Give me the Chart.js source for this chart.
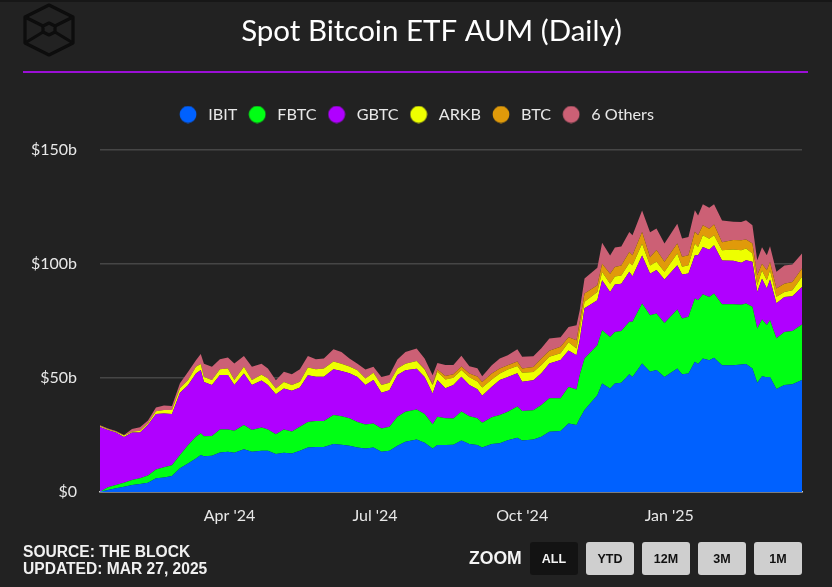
<!DOCTYPE html>
<html>
<head>
<meta charset="utf-8">
<script src="https://cdn.jsdelivr.net/npm/chart.js@4"></script>
<style>
html,body{margin:0;padding:0;background:#222222;}
#wrap{position:relative;width:832px;height:587px;overflow:hidden;background:#222222;}
canvas{display:block;}
#strip{position:absolute;left:0;top:0;width:832px;height:2px;background:#171717;}
#rule{position:absolute;left:23px;top:71px;width:785px;height:2px;background:#9b0fd6;}
#logo{position:absolute;left:20px;top:0;}
#source{position:absolute;left:23px;top:543px;font:bold 15.6px/17px "Liberation Sans",sans-serif;color:#f0f0f0;white-space:nowrap;}
#zoomlabel{position:absolute;left:469px;top:548px;font:bold 17.6px/20px "Liberation Sans",sans-serif;color:#f5f5f5;}
.btn{position:absolute;top:542px;width:48px;height:33px;border-radius:3px;background:#cfcfcf;color:#111;font:bold 12.5px/35px "Liberation Sans",sans-serif;text-align:center;}
.btn.on{background:#131313;color:#f5f5f5;}
</style>
</head>
<body>
<div id="wrap">
<canvas id="c" width="832" height="587"></canvas>
<div id="strip"></div>
<svg id="logo" width="60" height="60" viewBox="20 0 60 60" fill="none" stroke="#0d0d0d" stroke-width="3.2" stroke-linejoin="round">
<path d="M49 5L73 17V43L49 55L25 43V17Z"/>
<path d="M49 23L55 26V32L49 35L43 32V26Z"/>
<path d="M25 17L43 26M73 17L55 26M25 43L43 32M73 43L55 32"/>
</svg>
<div id="rule"></div>
<div id="source">SOURCE: THE BLOCK<br>UPDATED: MAR 27, 2025</div>
<div id="zoomlabel">ZOOM</div>
<div class="btn on" style="left:530px">ALL</div>
<div class="btn" style="left:586px">YTD</div>
<div class="btn" style="left:642px">12M</div>
<div class="btn" style="left:698px">3M</div>
<div class="btn" style="left:754px">1M</div>
</div>
<script>
// Days since 11 Jan 2024
const days = [0,5,10,15,20,25,30,35,40,45,50,55,60,63,65,70,75,80,84,90,95,101,105,110,115,120,125,130,135,140,
146,151,156,161,166,171,176,181,186,191,198,203,208,211,216,221,226,231,236,239,245,250,255,261,264,271,276,281,288,293,
298,300,303,311,314,319,322,326,331,333,339,344,348,353,361,364,368,372,374,377,381,384,389,396,401,404,408,411,414,417,419,423,428,433,439];

// Assets under management, $ billions
const IBIT = [0.1,0.9,1.6,2.3,3.1,3.5,4.1,6.0,6.4,7.0,10.4,12.5,14.7,16.2,15.7,15.9,17.3,17.6,17.2,18.7,17.6,18.1,18.1,16.6,17.2,16.9,18.1,19.5,19.7,19.7,
21.0,20.7,20.3,19.5,19.0,19.5,17.6,18.1,20.3,22.0,23.0,21.6,19.1,20.6,20.6,20.7,22.5,21.0,20.6,19.5,21.0,21.3,22.7,23.8,22.5,23.0,24.2,26.4,26.7,30.0,
29.3,32.2,35.9,42.4,47.5,45.3,47.5,47.8,51.5,50.4,56.3,52.6,53.4,50.4,54.1,51.5,51.9,57.0,56.0,58.5,57.7,58.8,55.5,55.5,55.8,56.0,54.1,47.8,50.7,50.2,50.4,45.1,46.8,47.2,49.0];
const FBTC = [0,1.2,1.5,1.7,2.2,2.5,3.1,3.9,4.4,4.7,5.8,8.0,9.5,9.5,8.7,8.6,10.1,9.8,9.6,10.6,9.5,10.1,9.3,8.7,10.2,9.6,10.5,11.2,11.4,11.4,
12.7,12.5,12.0,11.2,10.6,10.5,10.2,10.5,12.7,13.1,13.1,12.5,10.6,12.4,11.7,11.5,12.7,12.2,11.7,10.8,11.7,12.4,12.4,13.6,13.0,12.8,13.9,14.6,14.3,16.0,
15.6,19.0,22.6,21.9,23.3,22.6,22.6,22.7,23.0,24.1,26.2,24.8,24.8,23.6,25.8,24.5,24.8,27.7,28.0,28.1,27.7,28.1,26.7,26.7,26.2,26.5,27.0,23.8,24.8,22.9,24.8,22.2,23.3,23.3,24.3];
const GBTC = [28.4,25.1,22.9,20.1,20.7,20.1,22.2,24.2,23.6,22.5,27.3,26.2,27.7,27.7,23.8,22.3,23.8,23.8,20.0,22.6,19.7,20.6,19.4,17.5,17.9,17.8,17.2,20.4,19.4,19.4,
20.0,19.8,19.7,19.7,17.2,19.0,15.6,16.0,18.2,18.2,17.9,16.3,13.4,16.0,13.1,14.6,15.3,13.6,12.7,11.8,13.4,15.3,15.3,14.6,12.8,13.1,13.9,15.3,16.8,16.0,
15.0,15.3,21.9,19.7,21.9,19.7,20.8,20.7,21.9,20.0,21.1,18.2,19.0,19.0,19.4,19.2,19.0,19.0,19.7,20.7,20.7,21.1,19.2,19.0,18.4,19.0,19.7,16.0,17.9,16.0,17.8,15.3,15.3,15.2,16.5];
const ARKB = [0.4,0.3,0.4,0.6,0.4,0.7,0.7,1.3,1.5,1.7,1.9,2.2,2.9,2.6,2.2,2.2,2.5,2.9,2.2,2.9,2.2,2.5,2.9,2.5,2.9,2.5,2.5,3.4,3.2,3.6,
3.4,3.2,2.9,2.9,2.9,3.2,3.4,3.2,2.9,2.9,3.4,3.2,3.6,3.6,3.9,3.2,2.9,3.4,3.4,3.6,3.2,2.9,3.2,3.2,3.9,3.6,3.6,2.9,2.9,3.6,
2.9,4.4,2.9,3.6,3.6,3.6,3.5,3.6,3.9,4.8,5.1,3.6,3.6,3.4,5.1,3.4,3.6,5.1,3.6,5.1,4.8,4.4,4.4,5.0,5.4,5.1,3.6,2.9,3.6,3.6,4.1,2.9,2.2,2.6,4.4];
const BTC = [0,0,0,0,0,0,0,0,0,0,0,0,0,0,0,0,0,0,0,0,0,0,0,0,0,0,0,0,0,0,
0,0,0,0,0,0,0,0,0,0,0,0.3,0.6,1.0,1.5,1.5,1.5,1.7,2.2,2.5,2.6,2.2,1.9,1.9,1.9,2.2,2.9,2.6,2.9,2.2,
3.6,3.6,3.6,2.9,3.6,4.4,4.1,4.4,4.8,4.4,5.1,3.6,5.1,4.4,4.4,4.4,4.4,5.1,5.1,4.4,4.4,4.7,3.6,4.1,4.4,3.9,4.4,4.4,2.9,4.4,3.6,3.6,3.6,3.6,3.6];
const OTHERS = [0.3,0.3,0.3,0.3,1.2,1.5,1.2,1.6,2.0,1.7,2.2,3.6,2.9,4.4,5.8,5.8,4.4,4.8,7.3,4.7,5.8,4.8,4.4,3.6,4.4,4.8,5.4,5.0,4.4,4.4,
5.4,5.1,3.6,2.9,3.9,2.6,3.6,3.4,3.9,5.1,5.4,4.5,3.8,2.9,4.8,4.1,4.7,3.2,3.6,2.5,3.6,4.4,4.4,5.4,5.1,4.7,4.4,5.4,4.1,4.4,
6.6,5.1,6.6,7.7,9.2,8.0,8.5,8.3,8.7,8.7,9.5,10.9,9.5,8.0,8.7,8.0,8.0,9.5,8.7,9.2,9.2,8.9,9.5,8.0,8.0,8.5,8.0,6.6,7.3,6.6,6.9,7.3,8.0,7.7,6.6];

const seriesNames = ['IBIT','FBTC','GBTC','ARKB','BTC','6 Others'];
const seriesValues = [IBIT,FBTC,GBTC,ARKB,BTC,OTHERS];
const seriesColors = ['#0061ff','#00ff14','#b000ff','#eeff00','#e09a0a','#cc6075'];
const tickDays = [81,172,264,356];
const tickLabels = ["Apr '24","Jul '24","Oct '24","Jan '25"];
const yTicks = {0:'$0',50:'$50b',100:'$100b',150:'$150b'};
const textFont = 'Lato';

function dot(color){
  const c = document.createElement('canvas');
  c.width = 18; c.height = 18;
  const g = c.getContext('2d');
  g.fillStyle = color;
  g.beginPath(); g.arc(9,9,8.4,0,Math.PI*2); g.fill();
  return c;
}

const headerPlacer = {
  id:'headerPlacer',
  beforeInit(chart){
    const fit = chart.legend.fit;
    chart.legend.fit = function(){ fit.call(this); this.height = 51; };
  },
  afterLayout(chart){
    chart.titleBlock.left = 31;
    chart.titleBlock.right = 832;
    chart.legend.left += 14;
    chart.legend.right += 14;
  }
};

new Chart(document.getElementById('c'),{
  type:'line',
  plugins:[headerPlacer],
  data:{
    datasets:seriesNames.map((name,i)=>({
      label:name,
      data:days.map((d,j)=>({x:d,y:seriesValues[i][j]})),
      backgroundColor:seriesColors[i],
      borderColor:seriesColors[i],
      borderWidth:0,
      pointRadius:0,
      tension:0,
      fill:i===0?'origin':'-1'
    }))
  },
  options:{
    responsive:false,
    animation:false,
    layout:{padding:{left:0,right:30,top:0,bottom:0}},
    plugins:{
      tooltip:{enabled:false},
      title:{
        display:true,
        text:'Spot Bitcoin ETF AUM (Daily)',
        color:'#ffffff',
        font:{family:textFont,size:29.5,weight:'400'},
        padding:{top:14,bottom:49}
      },
      legend:{
        display:true,
        position:'top',
        align:'center',
        labels:{
          color:'#e8e8e8',
          font:{family:textFont,size:16.2},
          usePointStyle:true,
          boxHeight:12,
          pointStyleWidth:24,
          padding:8,
          generateLabels(chart){
            return chart.data.datasets.map((d,i)=>({
              text:d.label,
              fillStyle:d.backgroundColor,
              strokeStyle:d.backgroundColor,
              lineWidth:0,
              pointStyle:dot(d.backgroundColor),
              fontColor:'#e8e8e8',
              hidden:false,
              datasetIndex:i
            }));
          }
        }
      }
    },
    scales:{
      x:{
        type:'linear',
        min:0,
        max:439,
        grid:{display:false,drawTicks:false},
        border:{display:true,color:'#c8c8c8',width:1.5},
        afterBuildTicks(s){ s.ticks = tickDays.map(v=>({value:v})); },
        afterFit(s){ s.height = 95; },
        ticks:{
          color:'#e8e8e8',
          font:{family:textFont,size:16},
          padding:14,
          autoSkip:false,
          maxRotation:0,
          callback(v){ return tickLabels[tickDays.indexOf(v)]; }
        }
      },
      y:{
        stacked:true,
        min:0,
        max:150,
        afterFit(s){ s.width = 100; },
        grid:{color:'#464646',lineWidth:1.5,drawTicks:false},
        border:{display:false},
        ticks:{
          stepSize:50,
          color:'#e8e8e8',
          font:{family:textFont,size:16},
          padding:23,
          callback(v){ return yTicks[v]; }
        }
      }
    }
  }
});
</script>
</body>
</html>
